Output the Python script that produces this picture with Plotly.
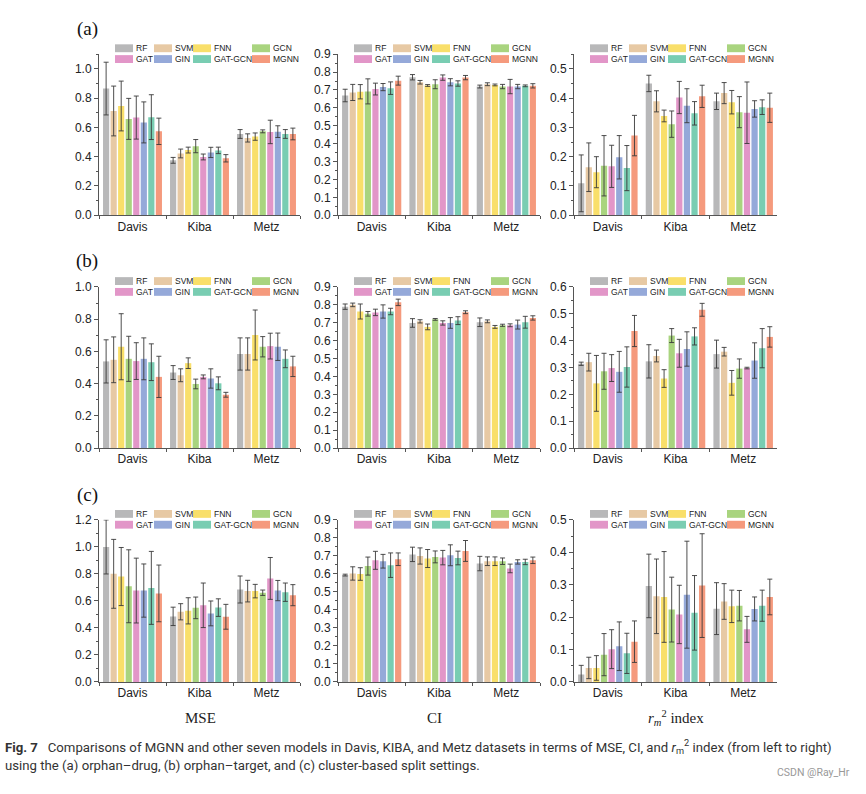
import plotly.graph_objects as go

W, H = 866, 794

models = ["RF", "SVM", "FNN", "GCN", "GAT", "GIN", "GAT-GCN", "MGNN"]
datasets = ["Davis", "Kiba", "Metz"]
colors = ["#B8B8B9", "#E7C9A4", "#F9DF6A", "#A9D47F", "#E296C8", "#95A9D9", "#79CDB2", "#F59A7D"]

# ---- (a) orphan-drug ----  rows: Davis, Kiba, Metz ; columns: models
mse_a = [[0.865, 0.712, 0.746, 0.658, 0.667, 0.634, 0.670, 0.573],
         [0.375, 0.422, 0.445, 0.472, 0.398, 0.429, 0.443, 0.389],
         [0.555, 0.528, 0.537, 0.573, 0.569, 0.571, 0.555, 0.555]]
mse_a_err = [[0.18, 0.17, 0.17, 0.14, 0.147, 0.14, 0.153, 0.09],
             [0.02, 0.03, 0.02, 0.045, 0.02, 0.035, 0.022, 0.025],
             [0.03, 0.028, 0.025, 0.01, 0.08, 0.04, 0.03, 0.04]]
ci_a = [[0.669, 0.686, 0.690, 0.692, 0.705, 0.716, 0.710, 0.752],
        [0.771, 0.743, 0.725, 0.732, 0.769, 0.743, 0.736, 0.769],
        [0.719, 0.732, 0.728, 0.719, 0.719, 0.719, 0.723, 0.723]]
ci_a_err = [[0.035, 0.045, 0.04, 0.07, 0.033, 0.02, 0.035, 0.025],
            [0.015, 0.01, 0.005, 0.025, 0.015, 0.02, 0.015, 0.012],
            [0.008, 0.008, 0.005, 0.012, 0.04, 0.012, 0.005, 0.012]]
rm2_a = [[0.109, 0.164, 0.147, 0.169, 0.167, 0.198, 0.161, 0.272],
         [0.450, 0.389, 0.339, 0.311, 0.402, 0.374, 0.348, 0.406],
         [0.389, 0.417, 0.386, 0.352, 0.350, 0.363, 0.369, 0.367]]
rm2_a_err = [[0.097, 0.083, 0.053, 0.103, 0.072, 0.074, 0.077, 0.069],
             [0.028, 0.036, 0.02, 0.045, 0.055, 0.058, 0.04, 0.038],
             [0.028, 0.036, 0.04, 0.053, 0.105, 0.028, 0.025, 0.05]]

# ---- (b) orphan-target ----
mse_b = [[0.538, 0.548, 0.629, 0.554, 0.540, 0.554, 0.533, 0.442],
         [0.469, 0.452, 0.527, 0.398, 0.442, 0.432, 0.402, 0.331],
         [0.584, 0.584, 0.702, 0.629, 0.633, 0.629, 0.554, 0.507]]
mse_b_err = [[0.134, 0.142, 0.205, 0.14, 0.114, 0.13, 0.114, 0.128],
             [0.043, 0.04, 0.033, 0.03, 0.012, 0.06, 0.04, 0.015],
             [0.10, 0.10, 0.155, 0.063, 0.08, 0.085, 0.055, 0.063]]
ci_b = [[0.790, 0.800, 0.763, 0.750, 0.758, 0.763, 0.763, 0.814],
        [0.699, 0.708, 0.677, 0.719, 0.699, 0.699, 0.712, 0.759],
        [0.703, 0.708, 0.677, 0.686, 0.686, 0.690, 0.703, 0.727]]
ci_b_err = [[0.015, 0.01, 0.042, 0.013, 0.018, 0.037, 0.018, 0.018],
            [0.024, 0.009, 0.016, 0.005, 0.012, 0.03, 0.022, 0.008],
            [0.024, 0.008, 0.008, 0.006, 0.008, 0.025, 0.033, 0.012]]
rm2_b = [[0.314, 0.320, 0.241, 0.286, 0.298, 0.284, 0.302, 0.436],
         [0.323, 0.343, 0.259, 0.419, 0.353, 0.369, 0.416, 0.515],
         [0.350, 0.359, 0.243, 0.296, 0.298, 0.326, 0.372, 0.414]]
rm2_b_err = [[0.006, 0.033, 0.104, 0.067, 0.05, 0.076, 0.075, 0.058],
             [0.062, 0.022, 0.033, 0.026, 0.052, 0.064, 0.032, 0.024],
             [0.052, 0.016, 0.046, 0.036, 0.003, 0.066, 0.073, 0.038]]

# ---- (c) cluster-based ----
mse_c = [[0.999, 0.800, 0.780, 0.708, 0.676, 0.676, 0.696, 0.655],
         [0.485, 0.519, 0.526, 0.548, 0.567, 0.507, 0.550, 0.482],
         [0.684, 0.672, 0.672, 0.660, 0.766, 0.676, 0.664, 0.642]]
mse_c_err = [[0.20, 0.255, 0.215, 0.27, 0.24, 0.197, 0.27, 0.21],
             [0.068, 0.06, 0.097, 0.08, 0.165, 0.092, 0.065, 0.092],
             [0.10, 0.08, 0.05, 0.02, 0.155, 0.075, 0.068, 0.078]]
ci_c = [[0.593, 0.602, 0.599, 0.643, 0.675, 0.670, 0.648, 0.681],
        [0.708, 0.699, 0.685, 0.694, 0.690, 0.703, 0.688, 0.727],
        [0.657, 0.670, 0.670, 0.670, 0.630, 0.666, 0.666, 0.675]]
ci_c_err = [[0.005, 0.037, 0.035, 0.05, 0.05, 0.038, 0.068, 0.035],
            [0.04, 0.045, 0.05, 0.033, 0.04, 0.058, 0.038, 0.058],
            [0.04, 0.024, 0.024, 0.018, 0.024, 0.012, 0.015, 0.018]]
rm2_c = [[0.023, 0.043, 0.043, 0.084, 0.101, 0.110, 0.088, 0.124],
         [0.296, 0.264, 0.262, 0.223, 0.208, 0.269, 0.213, 0.297],
         [0.226, 0.248, 0.233, 0.235, 0.162, 0.225, 0.235, 0.262]]
rm2_c_err = [[0.028, 0.033, 0.038, 0.065, 0.06, 0.075, 0.062, 0.064],
             [0.098, 0.115, 0.14, 0.10, 0.09, 0.165, 0.115, 0.16],
             [0.08, 0.055, 0.05, 0.047, 0.04, 0.037, 0.048, 0.055]]

# axis settings: (y max, major dtick, minor dtick)
panel_specs = [
    (mse_a, mse_a_err, 1.1, 0.2, 0.1), (ci_a, ci_a_err, 0.9, 0.1, 0.05), (rm2_a, rm2_a_err, 0.55, 0.1, 0.05),
    (mse_b, mse_b_err, 1.0, 0.2, 0.1), (ci_b, ci_b_err, 0.9, 0.1, 0.05), (rm2_b, rm2_b_err, 0.6, 0.1, 0.05),
    (mse_c, mse_c_err, 1.2, 0.2, 0.1), (ci_c, ci_c_err, 0.9, 0.1, 0.05), (rm2_c, rm2_c_err, 0.5, 0.1, 0.05),
]

col_px = [(99, 300), (338, 540), (574, 777)]
row_px = [(212, 48), (449, 285), (687, 522)]


def px_x(v):
    return v / W


def px_y(v):
    return 1 - v / H


fig = go.Figure()
layout = {}
shapes = []
annotations = []

axis_col = "#555555"
sans = "Liberation Sans, Arial, sans-serif"
tick_font = dict(family=sans, size=12, color="#222222")

for p, (vals, errs, ymax, dt, mdt) in enumerate(panel_specs):
    r, c = divmod(p, 3)
    k = "" if p == 0 else str(p + 1)
    x0, x1 = col_px[c]
    yb, yt = row_px[r]
    for i, m in enumerate(models):
        fig.add_trace(go.Bar(
            x=datasets,
            y=[vals[d][i] for d in range(3)],
            name=m,
            marker=dict(color=colors[i], line=dict(width=0)),
            error_y=dict(type="data", array=[errs[d][i] for d in range(3)],
                         color="#3a3a3a", thickness=0.9, width=2.5),
            xaxis="x" + k, yaxis="y" + k, showlegend=False,
        ))
    layout["xaxis" + k] = dict(
        domain=[px_x(x0), px_x(x1)], anchor="y" + k, range=[-0.5, 2.5],
        showline=True, linecolor=axis_col, linewidth=1,
        ticks="outside", ticklen=3, tickcolor=axis_col, tickson="boundaries",
        tickfont=dict(family=sans, size=12, color="#222222"),
        showgrid=False, zeroline=False, fixedrange=True,
    )
    layout["yaxis" + k] = dict(
        domain=[px_y(yb), px_y(yt)], anchor="x" + k, range=[0, ymax],
        showline=True, linecolor=axis_col, linewidth=1,
        ticks="outside", ticklen=4, tickcolor=axis_col, dtick=dt, tick0=0,
        tickformat=".1f", tickfont=tick_font,
        minor=dict(ticks="outside", ticklen=2, dtick=mdt, tick0=0, tickcolor=axis_col),
        showgrid=False, zeroline=False, fixedrange=True,
    )
    # legend block (4 columns x 2 rows) drawn from the model / colour lists
    offs = [16, 55, 94, 153]
    rows_y = [yt - 6, yt + 5]
    for i, m in enumerate(models):
        rr, cc = divmod(i, 4)
        sx = x0 + offs[cc]
        sy = rows_y[rr]
        shapes.append(dict(type="rect", xref="paper", yref="paper",
                           x0=px_x(sx), x1=px_x(sx + 18), y0=px_y(sy + 4), y1=px_y(sy - 4),
                           fillcolor=colors[i], line=dict(width=0), layer="below"))
        annotations.append(dict(xref="paper", yref="paper", x=px_x(sx + 19), y=px_y(sy),
                                text=m, showarrow=False, xanchor="left", yanchor="middle",
                                font=dict(family=sans, size=8.5, color="#222222")))

# panel letters
for lab, yy in zip(["(a)", "(b)", "(c)"], [22, 259, 497]):
    annotations.append(dict(xref="paper", yref="paper", x=px_x(87), y=px_y(yy), text=lab,
                            showarrow=False, xanchor="center", yanchor="middle",
                            font=dict(family="Liberation Serif, Times New Roman, serif", size=19, color="#111111")))

# metric titles
metric_titles = ["MSE", "CI", "<i>r</i><sub><i>m</i></sub><sup>2</sup> index"]
for t, xx in zip(metric_titles, [200, 434, 676]):
    annotations.append(dict(xref="paper", yref="paper", x=px_x(xx), y=px_y(724), text=t,
                            showarrow=False, xanchor="center", yanchor="middle",
                            font=dict(family="Liberation Serif, Times New Roman, serif", size=15, color="#222222")))

cap1 = ("<b>Fig. 7</b>   Comparisons of MGNN and other seven models in Davis, KIBA, and Metz datasets in terms of "
        "MSE, CI, and <i>r</i><sub>m</sub><sup>2</sup> index (from left to right)")
cap2 = "using the (a) orphan\u2013drug, (b) orphan\u2013target, and (c) cluster-based split settings."
annotations.append(dict(xref="paper", yref="paper", x=px_x(3), y=px_y(753), text=cap1, showarrow=False,
                        xanchor="left", yanchor="middle",
                        font=dict(family="Roboto, sans-serif", size=13.2, color="#333333")))
annotations.append(dict(xref="paper", yref="paper", x=px_x(3), y=px_y(772), text=cap2, showarrow=False,
                        xanchor="left", yanchor="middle",
                        font=dict(family="Roboto, sans-serif", size=13.2, color="#333333")))
annotations.append(dict(xref="paper", yref="paper", x=px_x(852), y=px_y(779), text="CSDN @Ray_Hr",
                        showarrow=False, xanchor="right", yanchor="middle",
                        font=dict(family="Roboto, sans-serif", size=10.5, color="#999999")))

fig.update_layout(
    width=W, height=H, margin=dict(l=0, r=0, t=0, b=0),
    paper_bgcolor="white", plot_bgcolor="white",
    barmode="group", bargap=0.1, bargroupgap=0.18,
    shapes=shapes, annotations=annotations, showlegend=False,
    **layout,
)

fig.write_html("out.html", config={"displayModeBar": False},
               post_script="document.body.style.margin='0';")
